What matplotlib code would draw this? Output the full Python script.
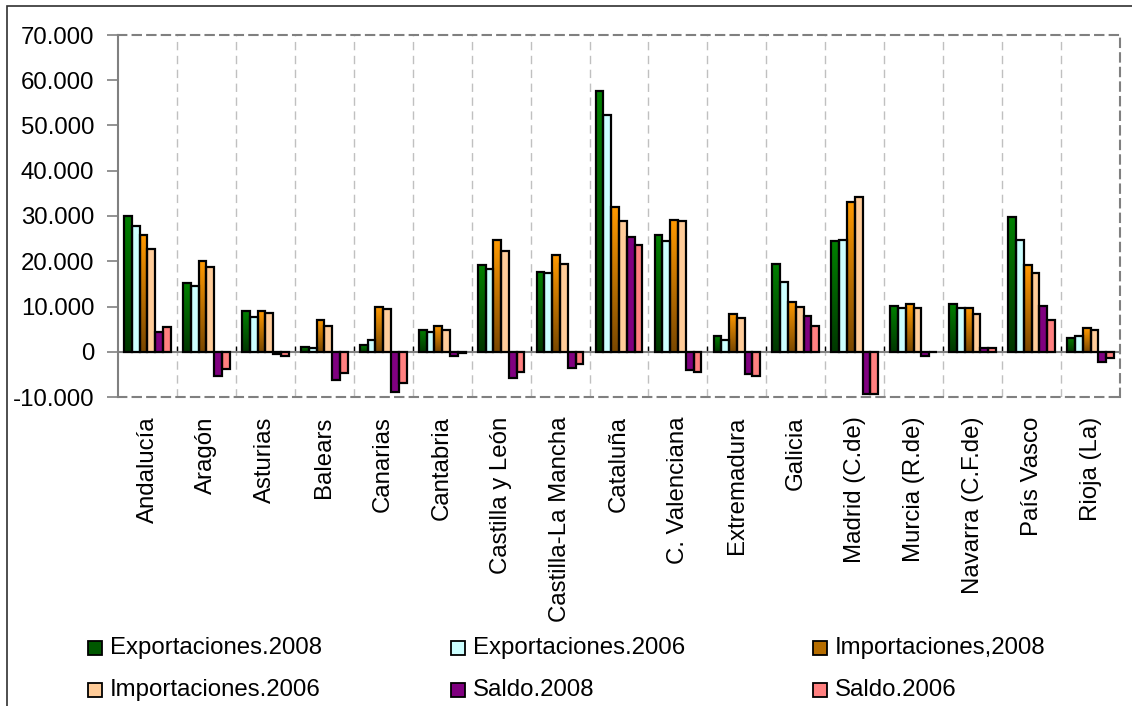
import numpy as np
import matplotlib
matplotlib.use("Agg")
from matplotlib import pyplot as plt
from matplotlib.patches import Rectangle
from matplotlib.ticker import FuncFormatter, MultipleLocator
from matplotlib.colors import LinearSegmentedColormap

plt.rcParams['font.family'] = ['Liberation Sans', 'DejaVu Sans']

regions = ["Andalucía", "Aragón", "Asturias", "Balears", "Canarias", "Cantabria",
           "Castilla y León", "Castilla-La Mancha", "Cataluña", "C. Valenciana",
           "Extremadura", "Galicia", "Madrid (C.de)", "Murcia (R.de)",
           "Navarra (C.F.de)", "País Vasco", "Rioja (La)"]

exp_2008 = [30100, 15100, 8900, 1000, 1500, 4900, 19100, 17700, 57600, 25700,
            3500, 19500, 24400, 10200, 10600, 29700, 3100]
exp_2006 = [27900, 14600, 7600, 900, 2700, 4400, 18200, 17300, 52300, 24400,
            2700, 15500, 24800, 9700, 9700, 24800, 3500]
imp_2008 = [25700, 20000, 8900, 7100, 9800, 5800, 24800, 21300, 31900, 29200,
            8400, 11100, 33200, 10600, 9700, 19100, 5300]
imp_2006 = [22600, 18700, 8500, 5800, 9400, 4900, 22200, 19500, 28800, 28800,
            7500, 9800, 34100, 9700, 8400, 17300, 4900]
saldo_2008 = [4400, -5300, -500, -6200, -8800, -900, -5800, -3500, 25300, -4000,
              -4900, 8000, -9300, -900, 900, 10200, -2200]
saldo_2006 = [5400, -3900, -900, -4800, -7000, -300, -4400, -2700, 23500, -4400,
              -5300, 5800, -9300, -100, 900, 7100, -1300]

# name, values, colour, dark end of gradient (None = flat fill)
series = [
    ("Exportaciones.2008", exp_2008, "#008000", "#003800"),
    ("Exportaciones.2006", exp_2006, "#CCFFFF", None),
    ("Importaciones,2008", imp_2008, "#FF9900", "#7A4800"),
    ("Importaciones.2006", imp_2006, "#FFCC99", None),
    ("Saldo.2008", saldo_2008, "#800080", None),
    ("Saldo.2006", saldo_2006, "#FF8080", None),
]

fig = plt.figure(figsize=(11.32, 7.06), dpi=100)
ax = fig.add_axes([118/1132, 1-397/706, (1120-118)/1132, (397-35)/706])

x = np.arange(len(regions))
w = 0.132
fs = 17.3

for i, (name, vals, col, dark) in enumerate(series):
    pos = x - 3*w + (i+0.5)*w
    bars = ax.bar(pos, vals, w, color=col, edgecolor='none', zorder=2)
    if dark is not None:
        cmap = LinearSegmentedColormap.from_list(name, [dark, col])
        grad = np.linspace(0, 1, 64).reshape(-1, 1)
        for b in bars:
            bx, by = b.get_x(), b.get_y()
            bw, bh = b.get_width(), b.get_height()
            im = ax.imshow(grad, cmap=cmap, origin='lower', aspect='auto',
                           extent=(bx, bx+bw, min(by, by+bh), max(by, by+bh)),
                           zorder=2.5)
            im.set_clip_path(b)
    ax.bar(pos, vals, w, fill=False, edgecolor='black', linewidth=1.6, zorder=3)

ax.set_xlim(-0.5, len(regions)-0.5)
ax.set_ylim(-10000, 70000)
ax.yaxis.set_major_locator(MultipleLocator(10000))
ax.yaxis.set_major_formatter(FuncFormatter(lambda v, p: "{:,.0f}".format(v).replace(",", ".")))

# vertical dashed grid at category boundaries, small ticks on the zero line
for b in np.arange(0.5, len(regions)-0.5, 1):
    ax.axvline(b, color='#C0C0C0', linestyle=(0, (6, 4)), linewidth=1, zorder=1)
    ax.vlines(b, 0, 1200, color='black', linewidth=1, zorder=1.5)

ax.axhline(0, color='#808080', linewidth=1.5, zorder=1.8)

for s in ['top', 'right', 'bottom']:
    ax.spines[s].set_color('#808080')
    ax.spines[s].set_linestyle((0, (4, 3)))
    ax.spines[s].set_linewidth(1.5)
ax.spines['left'].set_color('#808080')
ax.spines['left'].set_linewidth(1.5)

ax.set_xticks(x)
ax.set_xticklabels(regions, rotation=90, fontsize=fs, va='top')
ax.tick_params(axis='x', length=0, pad=14)
ax.tick_params(axis='y', length=8, width=1.2, color='#808080', labelsize=fs, pad=9)

# legend drawn by hand to match column placement
leg_x = [88, 451, 813]
leg_y = [648, 690]
for i, (name, vals, col, dark) in enumerate(series):
    cx = leg_x[i % 3]
    cy = leg_y[i // 3]
    if dark is not None:
        fc = LinearSegmentedColormap.from_list(name, [dark, col])(0.45)
    else:
        fc = col
    fig.add_artist(Rectangle((cx/1132, 1-(cy+7)/706), 14/1132, 14/706,
                             facecolor=fc, edgecolor='black', linewidth=1.3,
                             transform=fig.transFigure))
    fig.text((cx+22)/1132, 1-cy/706, name, fontsize=fs, va='center', ha='left')

# outer chart frame
fig.add_artist(Rectangle((7/1132, -0.05), 1.1, 1-6/706+0.05, fill=False,
                         edgecolor='#303030', linewidth=1.2,
                         transform=fig.transFigure))

fig.savefig("out.png", dpi=100)
